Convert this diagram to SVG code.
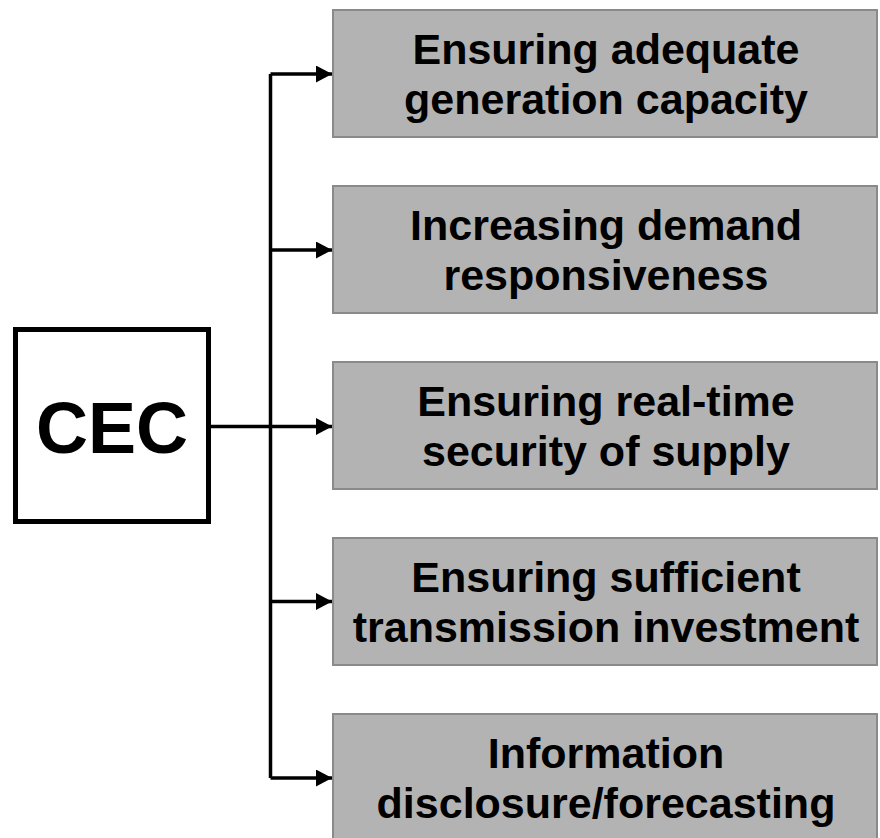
<svg xmlns="http://www.w3.org/2000/svg" width="880" height="838" viewBox="0 0 880 838">
<style>
.box{fill:#b3b3b3;stroke:#8a8a8a;stroke-width:2}
.lbl{font-family:"Liberation Sans",Arial,sans-serif;font-weight:bold;font-size:43px;fill:#000;text-anchor:middle}
.ln{stroke:#000;stroke-width:3.5;fill:none}
</style>
<defs>
<marker id="ah" markerWidth="16" markerHeight="17" refX="16" refY="8.5" orient="auto" markerUnits="userSpaceOnUse">
<path d="M0,0 L16,8.5 L0,17 Z" fill="#000"/>
</marker>
</defs>
<g id="connectors">
<path class="ln" d="M270.5,74 V778"/>
<path class="ln" d="M211,426.5 H270.5"/>
<path class="ln" d="M270.5,74 H332" marker-end="url(#ah)"/>
<path class="ln" d="M270.5,250 H332" marker-end="url(#ah)"/>
<path class="ln" d="M270.5,426.5 H332" marker-end="url(#ah)"/>
<path class="ln" d="M270.5,601.5 H332" marker-end="url(#ah)"/>
<path class="ln" d="M270.5,778 H332" marker-end="url(#ah)"/>
</g>
<g id="cec">
<rect x="15.5" y="329.5" width="193" height="192" fill="#fff" stroke="#000" stroke-width="5"/>
<text x="112" y="453" font-family="Liberation Sans,Arial,sans-serif" font-weight="bold" font-size="72" text-anchor="middle">CEC</text>
</g>
<g id="n1">
<rect class="box" x="333" y="10" width="544" height="127"/>
<text class="lbl" x="606" y="64">Ensuring adequate</text>
<text class="lbl" x="606" y="114">generation capacity</text>
</g>
<g id="n2">
<rect class="box" x="333" y="186" width="544" height="127"/>
<text class="lbl" x="606" y="240">Increasing demand</text>
<text class="lbl" x="606" y="290">responsiveness</text>
</g>
<g id="n3">
<rect class="box" x="333" y="362" width="544" height="127"/>
<text class="lbl" x="606" y="416">Ensuring real-time</text>
<text class="lbl" x="606" y="466">security of supply</text>
</g>
<g id="n4">
<rect class="box" x="333" y="538" width="544" height="127"/>
<text class="lbl" x="606" y="592">Ensuring sufficient</text>
<text class="lbl" x="606" y="642">transmission investment</text>
</g>
<g id="n5">
<rect class="box" x="333" y="714" width="544" height="127"/>
<text class="lbl" x="606" y="768">Information</text>
<text class="lbl" x="606" y="818">disclosure/forecasting</text>
</g>
</svg>
